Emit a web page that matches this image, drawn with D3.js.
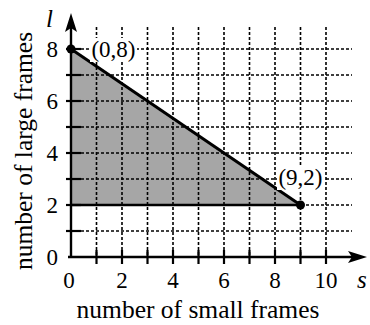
<!DOCTYPE html>
<html>
<head>
<meta charset="utf-8">
<script src="https://cdn.jsdelivr.net/npm/d3@7"></script>
<style>
  body { margin: 0; background: #fff; }
  text { font-family: "Liberation Serif", "DejaVu Serif", serif; fill: #000; }
</style>
</head>
<body>
<svg id="canvas" width="370" height="325"></svg>
<script>
// data
const xTicks = [0, 1, 2, 3, 4, 5, 6, 7, 8, 9, 10];
const yTicks = [0, 1, 2, 3, 4, 5, 6, 7, 8];
const region = [[0, 8], [9, 2], [0, 2]];
const vertices = [[0, 8], [9, 2]];
const vertexLabels = ['(0,8)', '(9,2)'];

const svg = d3.select('#canvas');

const x = d3.scaleLinear().domain([0, 10]).range([71, 326]);
const y = d3.scaleLinear().domain([0, 8]).range([257, 49]);

// shaded region
svg.append('path')
  .attr('d', d3.line().x(d => x(d[0])).y(d => y(d[1]))(region) + 'Z')
  .attr('fill', '#a6a6a6');

// dashed grid
const grid = svg.append('g')
  .attr('stroke', '#000')
  .attr('stroke-width', 1.6)
  .attr('stroke-dasharray', '3,2');

grid.selectAll('line.v')
  .data(xTicks.filter(d => d > 0))
  .enter()
  .append('line')
  .attr('x1', d => x(d)).attr('x2', d => x(d))
  .attr('y1', 27).attr('y2', y(0));

grid.selectAll('line.h')
  .data(yTicks.filter(d => d > 0))
  .enter()
  .append('line')
  .attr('x1', x(0)).attr('x2', 352)
  .attr('y1', d => y(d)).attr('y2', d => y(d));

// boundary lines
svg.append('line')
  .attr('x1', x(0)).attr('y1', y(8)).attr('x2', x(9)).attr('y2', y(2))
  .attr('stroke', '#000').attr('stroke-width', 3);
svg.append('line')
  .attr('x1', x(0)).attr('y1', y(2)).attr('x2', x(9)).attr('y2', y(2))
  .attr('stroke', '#000').attr('stroke-width', 2.5);

// axes
svg.append('line')
  .attr('x1', x(0)).attr('y1', y(0)).attr('x2', x(0)).attr('y2', 28)
  .attr('stroke', '#000').attr('stroke-width', 2.4);
svg.append('line')
  .attr('x1', x(0) - 3).attr('y1', y(0)).attr('x2', 352).attr('y2', y(0))
  .attr('stroke', '#000').attr('stroke-width', 2.4);

// arrow heads
svg.append('path')
  .attr('d', `M${x(0)},13 L${x(0) - 6},32 L${x(0)},28 L${x(0) + 6},32 Z`)
  .attr('fill', '#000');
svg.append('path')
  .attr('d', `M367,${y(0)} L348,${y(0) - 6} L352,${y(0)} L348,${y(0) + 6} Z`)
  .attr('fill', '#000');

// tick marks crossing the axes
svg.append('g').selectAll('line')
  .data(xTicks.filter(d => d > 0))
  .enter()
  .append('line')
  .attr('x1', d => x(d)).attr('x2', d => x(d))
  .attr('y1', y(0) - 7).attr('y2', y(0) + 7)
  .attr('stroke', '#000').attr('stroke-width', 2.2);

svg.append('g').selectAll('line')
  .data(yTicks.filter(d => d > 0))
  .enter()
  .append('line')
  .attr('x1', x(0) - 5).attr('x2', x(0) + 10)
  .attr('y1', d => y(d)).attr('y2', d => y(d))
  .attr('stroke', '#000').attr('stroke-width', 2.2);

// tick labels
svg.append('g').selectAll('text')
  .data(xTicks.filter(d => d % 2 === 0))
  .enter()
  .append('text')
  .attr('x', d => x(d) - (d === 0 ? 2 : 0))
  .attr('y', 288)
  .attr('text-anchor', 'middle')
  .attr('font-size', 23)
  .text(d => d);

svg.append('g').selectAll('text')
  .data(yTicks.filter(d => d % 2 === 0))
  .enter()
  .append('text')
  .attr('x', 58)
  .attr('y', d => y(d) + 8)
  .attr('text-anchor', 'end')
  .attr('font-size', 23)
  .text(d => d);

// vertices and labels
svg.selectAll('circle')
  .data(vertices)
  .enter()
  .append('circle')
  .attr('cx', d => x(d[0]))
  .attr('cy', d => y(d[1]))
  .attr('r', 4.5)
  .attr('fill', '#000');

const lab = svg.append('g').selectAll('g')
  .data(vertices)
  .enter()
  .append('g');

lab.append('rect')
  .attr('x', (d, i) => i === 0 ? 90 : 277)
  .attr('y', (d, i) => i === 0 ? 38 : 166)
  .attr('width', 47).attr('height', 24)
  .attr('fill', '#fff');

lab.append('text')
  .attr('x', (d, i) => i === 0 ? 113.5 : 300.5)
  .attr('y', (d, i) => i === 0 ? 57 : 185)
  .attr('text-anchor', 'middle')
  .attr('font-size', 23)
  .text((d, i) => vertexLabels[i]);

// axis titles
svg.append('text')
  .attr('x', 198).attr('y', 318)
  .attr('text-anchor', 'middle')
  .attr('font-size', 25.5)
  .text('number of small frames');

svg.append('text')
  .attr('transform', 'translate(32,151) rotate(-90)')
  .attr('text-anchor', 'middle')
  .attr('font-size', 25.5)
  .text('number of large frames');

svg.append('text')
  .attr('x', 46).attr('y', 27)
  .attr('font-size', 25)
  .attr('font-style', 'italic')
  .text('l');

svg.append('text')
  .attr('x', 357).attr('y', 288)
  .attr('font-size', 25)
  .attr('font-style', 'italic')
  .text('s');
</script>
</body>
</html>
